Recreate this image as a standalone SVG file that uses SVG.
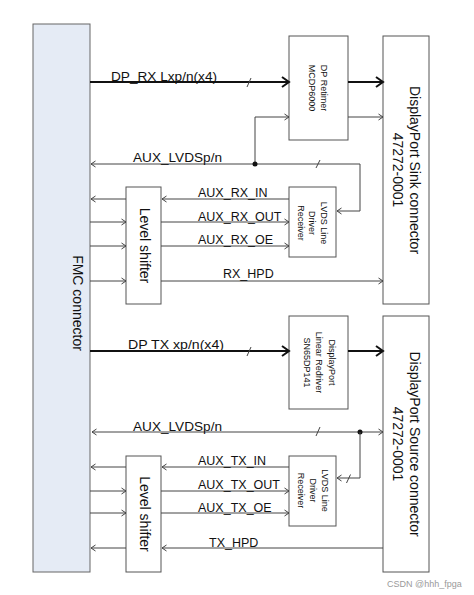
<svg xmlns="http://www.w3.org/2000/svg" width="474" height="595" viewBox="0 0 474 595">
<style>
.box{fill:#fff;stroke:#555;stroke-width:1}
.fmc{fill:#e5ebf5;stroke:#666;stroke-width:1}
.thin{stroke:#444;stroke-width:1;fill:none}
.thick{stroke:#111;stroke-width:2;fill:none}
.t{font-family:"Liberation Sans",Arial,sans-serif;fill:#111}
.lbl{font-size:12.5px}
.big{font-size:14px}
.small{font-size:9px}
.wm{font-family:"Liberation Sans",Arial,sans-serif;font-size:9px;fill:#9a9a9a}
</style>
<defs>
<marker id="ah" markerUnits="userSpaceOnUse" markerWidth="10" markerHeight="12" refX="8" refY="6" orient="auto"><path d="M1,1 L8,6 L1,11" fill="none" stroke="#111" stroke-width="2"/></marker>
<marker id="at" markerUnits="userSpaceOnUse" markerWidth="7" markerHeight="8" refX="5.5" refY="4" orient="auto-start-reverse"><path d="M1,1 L5.5,4 L1,7" fill="none" stroke="#444" stroke-width="1"/></marker>
</defs>

<g id="fmc"><rect class="fmc" x="33" y="24" width="57" height="548"/>
<text class="t big" text-anchor="middle" transform="translate(72.5,303) rotate(90)">FMC connector</text></g>

<g id="dp-retimer"><rect class="box" x="289" y="36" width="59" height="104"/>
<text class="t small" text-anchor="middle" transform="translate(320.5,88) rotate(90)"><tspan x="0" y="0">DP Retimer</tspan><tspan x="0" y="11.5">MCDP6000</tspan></text></g>

<g id="dp-sink"><rect class="box" x="383" y="36" width="46" height="268"/>
<text class="t big" text-anchor="middle" transform="translate(410,170) rotate(90)"><tspan x="0" y="0">DisplayPort Sink connector</tspan><tspan x="0" y="17.5">47272-0001</tspan></text></g>

<g id="level-shifter-rx"><rect class="box" x="126" y="187" width="35" height="117"/>
<text class="t big" text-anchor="middle" transform="translate(139.5,245.5) rotate(90)">Level shifter</text></g>

<g id="lvds-rx"><rect class="box" x="289" y="187" width="47" height="70"/>
<text class="t small" text-anchor="middle" transform="translate(321,223) rotate(90)"><tspan x="0" y="0">LVDS Line</tspan><tspan x="0" y="11.8">Driver</tspan><tspan x="0" y="23.5">Receiver</tspan></text></g>

<g id="dp-redriver"><rect class="box" x="289" y="316" width="59" height="93"/>
<text class="t small" text-anchor="middle" transform="translate(329,362.5) rotate(90)"><tspan x="0" y="0">DisplayPort</tspan><tspan x="0" y="12.6">Linear Redriver</tspan><tspan x="0" y="25.3">SN65DP141</tspan></text></g>

<g id="dp-source"><rect class="box" x="383" y="316" width="46" height="256"/>
<text class="t big" text-anchor="middle" transform="translate(410,444) rotate(90)"><tspan x="0" y="0">DisplayPort Source connector</tspan><tspan x="0" y="17.5">47272-0001</tspan></text></g>

<g id="level-shifter-tx"><rect class="box" x="126" y="456" width="35" height="116"/>
<text class="t big" text-anchor="middle" transform="translate(139.5,514) rotate(90)">Level shifter</text></g>

<g id="lvds-tx"><rect class="box" x="289" y="456" width="47" height="70"/>
<text class="t small" text-anchor="middle" transform="translate(322,490.5) rotate(90)"><tspan x="0" y="0">LVDS Line</tspan><tspan x="0" y="12">Driver</tspan><tspan x="0" y="24">Receiver</tspan></text></g>

<g id="connectors">
<path class="thick" d="M90,82 H289" marker-end="url(#ah)"/>
<path class="thick" d="M348,82 H383" marker-end="url(#ah)"/>
<path class="thin" d="M255,164 V117 H289" marker-end="url(#at)"/>
<path class="thin" d="M348,117 H383" marker-end="url(#at)"/>
<path class="thin" d="M91,164 H360 V211 H337" marker-start="url(#at)" marker-end="url(#at)"/>
<circle cx="255" cy="164" r="2.5" fill="#111"/>
<path class="thin" d="M289,199 H162" marker-end="url(#at)"/>
<path class="thin" d="M126,199 H91" marker-end="url(#at)"/>
<path class="thin" d="M90,222 H126" marker-end="url(#at)"/>
<path class="thin" d="M161,222 H289" marker-end="url(#at)"/>
<path class="thin" d="M90,246 H126" marker-end="url(#at)"/>
<path class="thin" d="M161,246 H289" marker-end="url(#at)"/>
<path class="thin" d="M90,281 H126" marker-end="url(#at)"/>
<path class="thin" d="M161,281 H383" marker-end="url(#at)"/>

<path class="thick" d="M90,351 H289" marker-end="url(#ah)"/>
<path class="thick" d="M348,351 H383" marker-end="url(#ah)"/>
<path class="thin" d="M92,432 H383" marker-start="url(#at)" marker-end="url(#at)"/>
<circle cx="360" cy="432" r="2.5" fill="#111"/>
<path class="thin" d="M360,432 V478 H337" marker-end="url(#at)"/>
<path class="thin" d="M289,467 H162" marker-end="url(#at)"/>
<path class="thin" d="M126,467 H91" marker-end="url(#at)"/>
<path class="thin" d="M90,491 H126" marker-end="url(#at)"/>
<path class="thin" d="M161,491 H289" marker-end="url(#at)"/>
<path class="thin" d="M90,513 H126" marker-end="url(#at)"/>
<path class="thin" d="M161,513 H289" marker-end="url(#at)"/>
<path class="thin" d="M383,548 H162" marker-end="url(#at)"/>
<path class="thin" d="M126,548 H91" marker-end="url(#at)"/>

<path class="thin" d="M247,87 L251,78 M316,168 L320,160 M247,356 L251,347 M316,436 L320,427 M346.5,483 L350.5,474.5"/>
</g>

<g id="labels" class="t lbl">
<text x="111" y="80.5" textLength="106" lengthAdjust="spacingAndGlyphs">DP_RX Lxp/n(x4)</text>
<text x="133" y="161.5" textLength="89" lengthAdjust="spacingAndGlyphs">AUX_LVDSp/n</text>
<text x="198" y="196.5">AUX_RX_IN</text>
<text x="198" y="220.5">AUX_RX_OUT</text>
<text x="198" y="244">AUX_RX_OE</text>
<text x="223" y="278">RX_HPD</text>
<text x="128" y="349" textLength="96" lengthAdjust="spacingAndGlyphs">DP TX xp/n(x4)</text>
<text x="133" y="430.5" textLength="89" lengthAdjust="spacingAndGlyphs">AUX_LVDSp/n</text>
<text x="198" y="465">AUX_TX_IN</text>
<text x="198" y="488.5">AUX_TX_OUT</text>
<text x="198" y="511.5">AUX_TX_OE</text>
<text x="209" y="546.5">TX_HPD</text>
</g>
<text class="wm" x="387" y="587">CSDN @hhh_fpga</text>
</svg>
